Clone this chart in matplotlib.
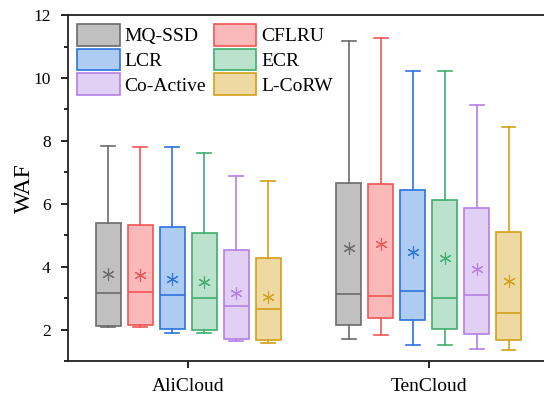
import matplotlib
matplotlib.use("Agg")
import matplotlib.pyplot as plt
from matplotlib.patches import Patch
from matplotlib.ticker import MultipleLocator

plt.rcParams['font.family'] = ['Liberation Serif', 'DejaVu Serif']

groups = ["AliCloud", "TenCloud"]
methods = ["MQ-SSD", "CFLRU", "LCR", "ECR", "Co-Active", "L-CoRW"]
edge_colors = ["#6b6b6b", "#f25555", "#2a74de", "#3fae6e", "#b47fe6", "#d4a017"]
fill_colors = ["#c0c0c0", "#fbbaba", "#aecbf2", "#bbe2cc", "#e2cff4", "#eed9a2"]

# per group: lists over methods
whislo = {"AliCloud": [2.10, 2.10, 1.88, 1.90, 1.63, 1.59],
          "TenCloud": [1.69, 1.84, 1.50, 1.50, 1.40, 1.37]}
q1 = {"AliCloud": [2.13, 2.15, 2.01, 1.98, 1.70, 1.67],
      "TenCloud": [2.16, 2.38, 2.31, 2.01, 1.86, 1.68]}
med = {"AliCloud": [3.16, 3.20, 3.10, 3.01, 2.75, 2.65],
       "TenCloud": [3.14, 3.08, 3.22, 3.01, 3.09, 2.52]}
q3 = {"AliCloud": [5.40, 5.34, 5.25, 5.08, 4.54, 4.29],
      "TenCloud": [6.65, 6.62, 6.43, 6.12, 5.88, 5.12]}
whishi = {"AliCloud": [7.84, 7.81, 7.80, 7.62, 6.90, 6.71],
          "TenCloud": [11.17, 11.28, 10.22, 10.22, 9.13, 8.43]}
means = {"AliCloud": [3.76, 3.73, 3.62, 3.50, 3.16, 3.04],
         "TenCloud": [4.60, 4.71, 4.46, 4.29, 3.93, 3.54]}

fig = plt.figure(figsize=(5.44, 3.96), dpi=100)
ax = fig.add_axes([0.125, 0.088, 0.875, 0.874])

spacing = 0.133
width = 0.105
for gi, g in enumerate(groups):
    center = gi + 1
    for mi, m in enumerate(methods):
        pos = center + (mi - 2.5) * spacing
        st = [dict(whislo=whislo[g][mi], q1=q1[g][mi], med=med[g][mi],
                   q3=q3[g][mi], whishi=whishi[g][mi], mean=means[g][mi], fliers=[])]
        ec = edge_colors[mi]
        ax.bxp(st, positions=[pos], widths=width, patch_artist=True,
               showmeans=True, showfliers=False,
               boxprops=dict(facecolor=fill_colors[mi], edgecolor=ec, linewidth=1.2),
               medianprops=dict(color=ec, linewidth=1.2),
               whiskerprops=dict(color=ec, linewidth=1.2),
               capprops=dict(color=ec, linewidth=1.2),
               capwidths=width * 0.55,
               meanprops=dict(marker=(6, 2, 0), markeredgecolor=ec, markerfacecolor=ec,
                              markersize=9, markeredgewidth=0.8))

ax.set_xlim(0.5, 2.48)
ax.set_ylim(1, 12)
ax.set_xticks([1, 2])
ax.set_xticklabels(groups, fontsize=14)
ax.yaxis.set_major_locator(MultipleLocator(2))
ax.yaxis.set_minor_locator(MultipleLocator(1))
ax.set_yticks([2, 4, 6, 8, 10, 12])
ax.tick_params(axis='y', labelsize=12.5, direction='out', length=5, width=1.2, pad=7.5)
ax.tick_params(axis='y', which='minor', direction='out', length=3, width=1.2)
ax.tick_params(axis='x', direction='out', length=5, width=1.2, pad=7)
ax.set_ylabel("WAF", fontsize=17, labelpad=-1)
for s in ['left', 'bottom', 'top']:
    ax.spines[s].set_linewidth(1.3)
    ax.spines[s].set_color('#222222')
ax.spines['right'].set_visible(False)

handles = [Patch(facecolor=fill_colors[i], edgecolor=edge_colors[i], linewidth=1.2)
           for i in range(len(methods))]
order = [0, 2, 4, 1, 3, 5]
ax.legend([handles[i] for i in order], [methods[i] for i in order], ncol=2,
          frameon=False, loc='upper left',
          bbox_to_anchor=(0.0, 1.0), fontsize=14, handlelength=2.2, handleheight=1.35,
          handletextpad=0.25, columnspacing=0.4, labelspacing=0.15, borderaxespad=0.15,
          borderpad=0.3)

fig.savefig("out.png", dpi=100)
